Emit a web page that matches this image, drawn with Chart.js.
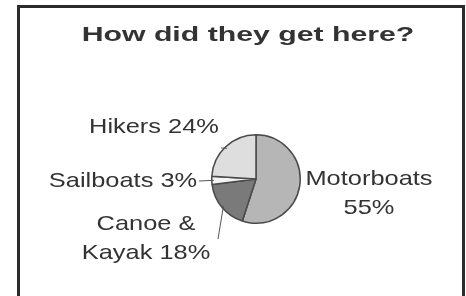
<!DOCTYPE html>
<html>
<head>
<meta charset="utf-8">
<script src="https://cdn.jsdelivr.net/npm/chart.js@4/dist/chart.umd.min.js"></script>
<style>
  html, body { margin: 0; padding: 0; background: #fff; }
  #wrap { width: 466px; height: 296px; }
</style>
</head>
<body>
<div id="wrap"><canvas id="chart-trip" width="466" height="296"></canvas></div>
<script>
let chartTitle = "How did they get here?";
let categories = ["Motorboats", "Canoe & Kayak", "Sailboats", "Hikers"];
let shares = [55, 18, 3, 24];
// word index after which the label wraps (0 = one line)
let labelBreaks = [1, 2, 0, 0];
let sliceColors = ["#b6b6b6", "#7a7a7a", "#f4f4f4", "#dedede"];

// label placement relative to the pie centre: [x, baseline y, leader end x, leader end y]
let labelSpots = [
  [113, 6, null, null],
  [-110, 51, -38, 60],
  [-133, 8, -57, 2],
  [-102, -46, -35, -31],
];

let stretchText = function (ctx, text, x, y, sx) {
  ctx.save();
  ctx.translate(x, y);
  ctx.scale(sx, 1);
  ctx.fillText(text, 0, 0);
  ctx.restore();
};

let framePlugin = {
  id: "frame",
  beforeDraw: function (chart) {
    let ctx = chart.ctx;
    ctx.save();
    ctx.fillStyle = "#fff";
    ctx.fillRect(0, 0, chart.width, chart.height);
    ctx.fillStyle = "#2b2b2b";
    ctx.fillRect(17, 5, 3, chart.height - 5);
    ctx.fillRect(17, 5, 448, 3);
    ctx.fillRect(462, 5, 3, chart.height - 5);
    ctx.restore();
  },
};

let labelPlugin = {
  id: "sliceLabels",
  afterDraw: function (chart) {
    let ctx = chart.ctx;
    let arcs = chart.getDatasetMeta(0).data;
    ctx.save();
    ctx.fillStyle = "#333";
    ctx.textAlign = "center";
    ctx.textBaseline = "alphabetic";
    ctx.font = 'bold 21px "Liberation Sans", Arial, sans-serif';
    stretchText(ctx, chartTitle, 248, 41, 1.44);

    ctx.font = '21px "Liberation Sans", Arial, sans-serif';
    arcs.forEach(function (arc, i) {
      let cx = arc.x, cy = arc.y;
      let spot = labelSpots[i];
      let words = (categories[i] + " " + shares[i] + "%").split(" ");
      let lines = labelBreaks[i]
        ? [words.slice(0, labelBreaks[i]).join(" "), words.slice(labelBreaks[i]).join(" ")]
        : [words.join(" ")];
      lines.forEach(function (line, k) {
        stretchText(ctx, line, cx + spot[0], cy + spot[1] + k * 29, 1.21);
      });
      if (spot[2] !== null) {
        let mid = (arc.startAngle + arc.endAngle) / 2;
        let r = arc.outerRadius;
        ctx.strokeStyle = "#555";
        ctx.lineWidth = 1;
        ctx.beginPath();
        ctx.moveTo(cx + spot[2], cy + spot[3]);
        ctx.lineTo(cx + Math.cos(mid) * (r - 2), cy + Math.sin(mid) * (r - 2));
        ctx.stroke();
      }
    });
    ctx.restore();
  },
};

new Chart(document.getElementById("chart-trip").getContext("2d"), {
  type: "pie",
  data: {
    labels: categories,
    datasets: [
      {
        data: shares,
        backgroundColor: sliceColors,
        borderColor: "#4a4a4a",
        borderWidth: 1.5,
      },
    ],
  },
  options: {
    responsive: false,
    animation: false,
    layout: { padding: { top: 134, bottom: 72, left: 211, right: 165 } },
    plugins: {
      legend: { display: false },
      tooltip: { enabled: false },
      title: { display: false },
    },
  },
  plugins: [framePlugin, labelPlugin],
});
</script>
</body>
</html>
